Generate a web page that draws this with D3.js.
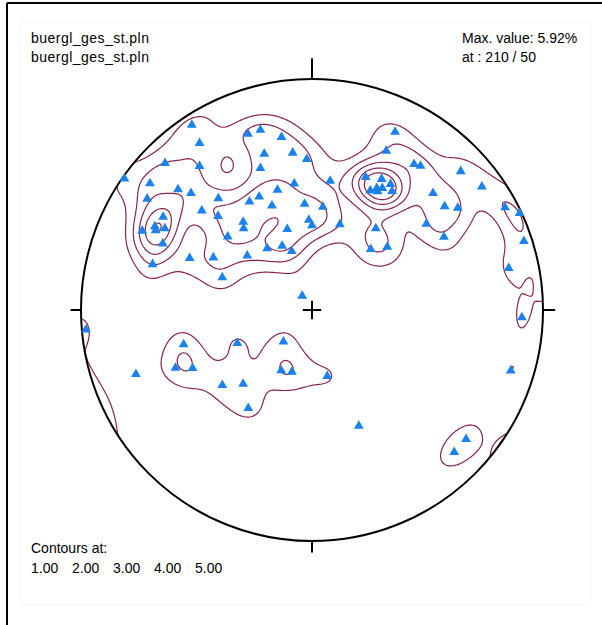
<!DOCTYPE html>
<html>
<head>
<meta charset="utf-8">
<script src="https://cdn.jsdelivr.net/npm/d3@7"></script>
<style>
  body { margin: 0; background: #fff; }
  text { font-family: "Liberation Sans", Arial, sans-serif; font-size: 14px; fill: #000; }
</style>
</head>
<body>
<svg id="net" width="602" height="625"></svg>
<script>
const dipDirs = [147,146,135,142,125,128,132,134,140,124,132,122,118,119,117,115,114,135,131,142,
                 140,150,155,159,113,106,118,110,130,144,155,161,163,160,164,170,163,173,178,160,
                 172,188,164,176,186,178,180,198,205,205,215,217,227,202,208,212,208,206,214,226,
                 232,235,234,242,245,233,218,241,224,230,252,258,145,272,287,85,75,66,42,70,
                 67,64,27,18,347,50,43,33,338,310,315,210,209];
const dips =    [85,76,79,68,89,78,67,62,53,75,54,65,66,62,65,70,60,48,40,40,
                 38,45,45,40,48,61,40,34,30,27,25,22,30,70,70,65,60,58,55,55,
                 46,47,45,38,37,32,30,32,74,65,66,67,77,52,54,54,50,48,52,62,
                 62,66,80,84,89,52,37,55,30,35,86,76,6,80,79,88,48,29,15,70,
                 54,48,24,23,24,42,36,42,45,76,76,51,49];

const contourLevels = [1, 2, 3, 4, 5];
const headerLines = ["buergl_ges_st.pln", "buergl_ges_st.pln"];
const maxLines = ["Max. value: 5.92%", "at : 210 / 50"];

const svg = d3.select("#net");
const cx = 312, cy = 310, R = 231;
const rad = Math.PI / 180;

// equal-area net: unit disc -> screen
const x = d3.scaleLinear().domain([-1, 1]).range([cx - R, cx + R]);
const y = d3.scaleLinear().domain([-1, 1]).range([cy + R, cy - R]);

// poles to planes
let poles = dipDirs.map((dd, i) => {
  const trend = (dd + 180) % 360;
  const plunge = 90 - dips[i];
  const r = Math.SQRT2 * Math.sin(dips[i] * rad / 2);
  return {
    u: r * Math.sin(trend * rad),
    v: r * Math.cos(trend * rad),
    vec: [Math.cos(plunge * rad) * Math.sin(trend * rad),
          Math.cos(plunge * rad) * Math.cos(trend * rad),
          Math.sin(plunge * rad)]
  };
});

// density grid, smoothed axial counting (percent per 1% area)
const k = 100;          // kernel sharpness
const peak = 0.965;     // value one isolated pole gives
const step = 2;
const x0 = cx - R - 12, y0 = cy - R - 12;
const nx = Math.ceil((2 * R + 24) / step), ny = nx;
let values = new Float64Array(nx * ny);
for (let j = 0; j < ny; j++) {
  for (let i = 0; i < nx; i++) {
    const u = x.invert(x0 + i * step), v = y.invert(y0 + j * step);
    const rho = Math.hypot(u, v);
    const th = 2 * Math.asin(Math.min(rho / Math.SQRT2, 1));
    const s = Math.sin(th);
    const g = rho > 0 ? [s * u / rho, s * v / rho, Math.cos(th)] : [0, 0, 1];
    let sum = 0;
    for (const p of poles) {
      const c = Math.abs(g[0] * p.vec[0] + g[1] * p.vec[1] + g[2] * p.vec[2]);
      sum += Math.exp(k * (c - 1));
    }
    values[i + j * nx] = peak * sum;
  }
}

const contours = d3.contours().size([nx, ny]).thresholds(contourLevels)(values);
const gridToScreen = d3.geoTransform({
  point: function(gx, gy) {
    this.stream.point(x0 + (gx - 0.5) * step, y0 + (gy - 0.5) * step);
  }
});
const contourPath = d3.geoPath(gridToScreen);

svg.append("defs").append("clipPath").attr("id", "netclip")
  .append("circle").attr("cx", cx).attr("cy", cy).attr("r", R);

// frame
svg.append("rect").attr("x", 21).attr("y", 23).attr("width", 570).attr("height", 582)
  .attr("fill", "none").attr("stroke", "#f5f5f5");
svg.append("line").attr("x1", 7).attr("y1", 3).attr("x2", 602).attr("y2", 3)
  .attr("stroke", "#000").attr("stroke-width", 2);
svg.append("line").attr("x1", 7).attr("y1", 3).attr("x2", 7).attr("y2", 625)
  .attr("stroke", "#000").attr("stroke-width", 2);

svg.append("g").attr("clip-path", "url(#netclip)")
  .selectAll("path")
  .data(contours)
  .enter()
  .append("path")
  .attr("d", contourPath)
  .attr("fill", "none")
  .attr("stroke", "#8a2252")
  .attr("stroke-width", 1.2);

// primitive circle, ticks and centre cross
svg.append("circle").attr("cx", cx).attr("cy", cy).attr("r", R)
  .attr("fill", "none").attr("stroke", "#000").attr("stroke-width", 2);
const ticks = [[0, 1, 1.09], [1, 0, 1.053], [0, -1, 1.05], [-1, 0, 1.045]];
svg.selectAll("line.tick").data(ticks).enter().append("line")
  .attr("class", "tick")
  .attr("x1", d => x(d[0])).attr("y1", d => y(d[1]))
  .attr("x2", d => x(d[0] * d[2])).attr("y2", d => y(d[1] * d[2]))
  .attr("stroke", "#000").attr("stroke-width", 2);
svg.append("line").attr("x1", x(-0.04)).attr("x2", x(0.04)).attr("y1", y(0)).attr("y2", y(0))
  .attr("stroke", "#000").attr("stroke-width", 2);
svg.append("line").attr("x1", x(0)).attr("x2", x(0)).attr("y1", y(-0.04)).attr("y2", y(0.04))
  .attr("stroke", "#000").attr("stroke-width", 2);

// poles
svg.append("g").selectAll("path")
  .data(poles)
  .enter()
  .append("path")
  .attr("d", d3.symbol(d3.symbolTriangle, 42))
  .attr("transform", d => `translate(${x(d.u)},${y(d.v)})`)
  .attr("fill", "#1a82ee");

// labels
svg.selectAll("text.head").data(headerLines).enter().append("text")
  .attr("class", "head").attr("x", 31).attr("y", (d, i) => 43 + i * 19)
  .attr("textLength", 118).attr("lengthAdjust", "spacing").text(d => d);
svg.selectAll("text.max").data(maxLines).enter().append("text")
  .attr("class", "max").attr("x", 462).attr("y", (d, i) => 43 + i * 19).text(d => d);
svg.append("text").attr("x", 31).attr("y", 553).text("Contours at:");
svg.selectAll("text.lev").data(contourLevels).enter().append("text")
  .attr("class", "lev").attr("x", (d, i) => 31 + i * 41).attr("y", 573)
  .text(d => d.toFixed(2));
</script>
</body>
</html>
